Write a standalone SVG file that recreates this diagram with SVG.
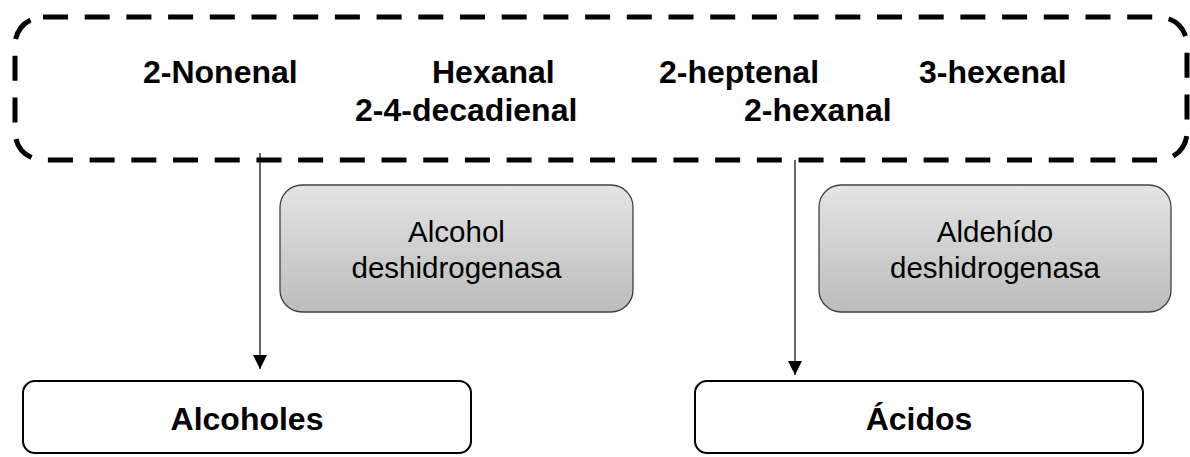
<svg xmlns="http://www.w3.org/2000/svg" width="1190" height="457" viewBox="0 0 1190 457">
<defs>
<linearGradient id="gray" x1="0" y1="0" x2="0" y2="1">
<stop offset="0" stop-color="#e4e4e4"/>
<stop offset="1" stop-color="#bcbcbc"/>
</linearGradient>
<marker id="arr" viewBox="0 0 14 14" refX="14" refY="7" markerWidth="14" markerHeight="14" markerUnits="userSpaceOnUse" orient="auto">
<path d="M0,0 L14,7 L0,14 Z" fill="#000"/>
</marker>
<style>
.b{font-family:"Liberation Sans",Arial,sans-serif;font-weight:bold;font-size:32px;fill:#000}
.r{font-family:"Liberation Sans",Arial,sans-serif;font-size:29.5px;fill:#000;text-anchor:middle}
.enz{fill:url(#gray);stroke:#404040;stroke-width:1.3}
.out{fill:#fff;stroke:#000;stroke-width:2}
.c{stroke:#000;stroke-width:1.2;fill:none;marker-end:url(#arr)}
</style>
</defs>
<rect width="1190" height="457" fill="#fff"/>
<g id="aldehidos">
<rect x="15" y="17" width="1172" height="143" rx="28" fill="none" stroke="#000" stroke-width="5" stroke-dasharray="25 16.7"/>
<text class="b" x="143" y="83">2-Nonenal</text>
<text class="b" x="432" y="83">Hexanal</text>
<text class="b" x="659" y="83">2-heptenal</text>
<text class="b" x="919" y="83">3-hexenal</text>
<text class="b" x="355" y="121">2-4-decadienal</text>
<text class="b" x="744" y="121">2-hexanal</text>
</g>
<g id="connectors">
<line class="c" x1="260" y1="153" x2="260" y2="369"/>
<line class="c" x1="795" y1="160" x2="795" y2="375"/>
</g>
<g id="alcohol-deshidrogenasa">
<rect class="enz" x="280" y="185" width="353" height="127" rx="22"/>
<text class="r" x="456.5" y="242">Alcohol</text>
<text class="r" x="456.5" y="278">deshidrogenasa</text>
</g>
<g id="aldehido-deshidrogenasa">
<rect class="enz" x="819" y="185" width="352" height="127" rx="22"/>
<text class="r" x="995" y="242">Aldehído</text>
<text class="r" x="995" y="278">deshidrogenasa</text>
</g>
<g id="alcoholes">
<rect class="out" x="23" y="381" width="448" height="72" rx="12"/>
<text class="b" x="247" y="430" text-anchor="middle">Alcoholes</text>
</g>
<g id="acidos">
<rect class="out" x="695" y="381" width="448" height="72" rx="12"/>
<text class="b" x="919" y="430" text-anchor="middle">Ácidos</text>
</g>
</svg>
